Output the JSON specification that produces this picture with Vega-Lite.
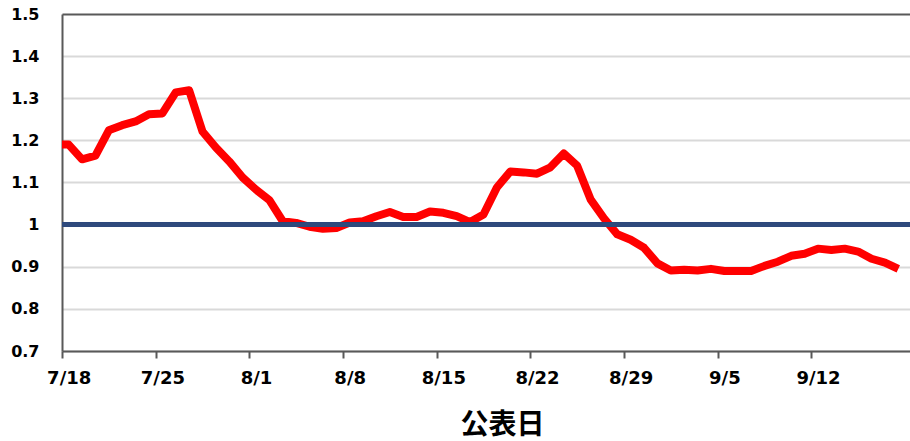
{
  "$schema": "https://vega.github.io/schema/vega-lite/v6.json",
  "width": 848,
  "height": 337,
  "autosize": {"type": "none"},
  "padding": {"left": 62, "top": 14, "right": 0, "bottom": 90},
  "background": "white",
  "config": {"view": {"stroke": null}},
  "data": {"values": [
    {"date": "2022/07/17", "r": 1.19},
    {"date": "2022/07/18", "r": 1.19},
    {"date": "2022/07/19", "r": 1.155},
    {"date": "2022/07/20", "r": 1.164},
    {"date": "2022/07/21", "r": 1.224},
    {"date": "2022/07/22", "r": 1.236},
    {"date": "2022/07/23", "r": 1.245},
    {"date": "2022/07/24", "r": 1.262},
    {"date": "2022/07/25", "r": 1.264},
    {"date": "2022/07/26", "r": 1.314},
    {"date": "2022/07/27", "r": 1.319},
    {"date": "2022/07/28", "r": 1.221},
    {"date": "2022/07/29", "r": 1.183},
    {"date": "2022/07/30", "r": 1.15},
    {"date": "2022/07/31", "r": 1.112},
    {"date": "2022/08/01", "r": 1.083},
    {"date": "2022/08/02", "r": 1.058},
    {"date": "2022/08/03", "r": 1.008},
    {"date": "2022/08/04", "r": 1.004},
    {"date": "2022/08/05", "r": 0.995},
    {"date": "2022/08/06", "r": 0.99},
    {"date": "2022/08/07", "r": 0.992},
    {"date": "2022/08/08", "r": 1.005},
    {"date": "2022/08/09", "r": 1.008},
    {"date": "2022/08/10", "r": 1.02},
    {"date": "2022/08/11", "r": 1.03},
    {"date": "2022/08/12", "r": 1.018},
    {"date": "2022/08/13", "r": 1.018},
    {"date": "2022/08/14", "r": 1.031},
    {"date": "2022/08/15", "r": 1.028},
    {"date": "2022/08/16", "r": 1.02},
    {"date": "2022/08/17", "r": 1.006},
    {"date": "2022/08/18", "r": 1.024},
    {"date": "2022/08/19", "r": 1.088},
    {"date": "2022/08/20", "r": 1.126},
    {"date": "2022/08/21", "r": 1.124},
    {"date": "2022/08/22", "r": 1.121},
    {"date": "2022/08/23", "r": 1.136},
    {"date": "2022/08/24", "r": 1.169},
    {"date": "2022/08/25", "r": 1.14},
    {"date": "2022/08/26", "r": 1.06},
    {"date": "2022/08/27", "r": 1.015},
    {"date": "2022/08/28", "r": 0.977},
    {"date": "2022/08/29", "r": 0.964},
    {"date": "2022/08/30", "r": 0.945},
    {"date": "2022/08/31", "r": 0.908},
    {"date": "2022/09/01", "r": 0.891},
    {"date": "2022/09/02", "r": 0.893},
    {"date": "2022/09/03", "r": 0.891},
    {"date": "2022/09/04", "r": 0.895},
    {"date": "2022/09/05", "r": 0.89},
    {"date": "2022/09/06", "r": 0.89},
    {"date": "2022/09/07", "r": 0.89},
    {"date": "2022/09/08", "r": 0.902},
    {"date": "2022/09/09", "r": 0.912},
    {"date": "2022/09/10", "r": 0.926},
    {"date": "2022/09/11", "r": 0.931},
    {"date": "2022/09/12", "r": 0.943},
    {"date": "2022/09/13", "r": 0.94},
    {"date": "2022/09/14", "r": 0.943},
    {"date": "2022/09/15", "r": 0.936},
    {"date": "2022/09/16", "r": 0.919},
    {"date": "2022/09/17", "r": 0.91},
    {"date": "2022/09/18", "r": 0.895}
  ]},
  "layer": [
    {
      "mark": {"type": "line", "color": "#ff0000", "strokeWidth": 8, "strokeJoin": "round", "clip": true},
      "encoding": {
        "x": {
          "field": "date", "type": "temporal",
          "scale": {"domain": [{"year": 2022, "month": 7, "date": 17, "hours": 12}, {"year": 2022, "month": 9, "date": 18, "hours": 21}]},
          "axis": {
            "values": [
              {"year": 2022, "month": 7, "date": 18},
              {"year": 2022, "month": 7, "date": 25},
              {"year": 2022, "month": 8, "date": 1},
              {"year": 2022, "month": 8, "date": 8},
              {"year": 2022, "month": 8, "date": 15},
              {"year": 2022, "month": 8, "date": 22},
              {"year": 2022, "month": 8, "date": 29},
              {"year": 2022, "month": 9, "date": 5},
              {"year": 2022, "month": 9, "date": 12}
            ],
            "format": "%-m/%-d",
            "tickOffset": -6.8,
            "labelOffset": 6.8,
            "grid": false,
            "domainColor": "#595959",
            "domainWidth": 2,
            "ticks": true,
            "tickColor": "#595959",
            "tickWidth": 2,
            "tickSize": 7,
            "labelFont": "DejaVu Sans",
            "labelFontWeight": "bold",
            "labelFontSize": 18,
            "labelColor": "#000000",
            "labelPadding": 11,
            "labelFlush": false,
            "labelOverlap": false,
            "title": "公表日",
            "titleFont": "Noto Sans CJK JP",
            "titleFontWeight": "bold",
            "titleFontSize": 28,
            "titleColor": "#000000",
            "titleX": 440,
            "titleY": 74,
            "titleBaseline": "middle",
            "titleAlign": "center",
            "titleAngle": 0
          }
        },
        "y": {
          "field": "r", "type": "quantitative",
          "scale": {"domain": [0.7, 1.5], "nice": false, "zero": false},
          "axis": {
            "values": [0.7, 0.8, 0.9, 1, 1.1, 1.2, 1.3, 1.4, 1.5],
            "format": "~g",
            "title": null,
            "grid": true,
            "gridColor": {"condition": {"test": "datum.value >= 1.49", "value": "#595959"}, "value": "#d9d9d9"},
            "gridWidth": 2,
            "domainColor": "#595959",
            "domainWidth": 2,
            "ticks": false,
            "tickSize": 0,
            "labelFont": "DejaVu Sans",
            "labelFontWeight": "bold",
            "labelFontSize": 16,
            "labelColor": "#000000",
            "labelPadding": 23,
            "labelFlush": false,
            "labelOverlap": false
          }
        }
      }
    },
    {
      "mark": {"type": "rule", "color": "#2f4a7c", "strokeWidth": 4},
      "encoding": {"y": {"datum": 1}}
    }
  ]
}
